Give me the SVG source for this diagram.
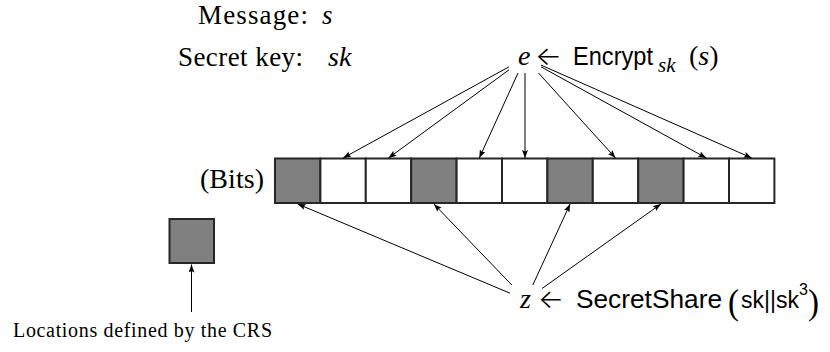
<svg xmlns="http://www.w3.org/2000/svg" width="830" height="352" viewBox="0 0 830 352">
  <style>
    .serif { font-family: "Liberation Serif", "DejaVu Serif", serif; fill: #000; }
    .sans { font-family: "Liberation Sans", "DejaVu Sans", sans-serif; fill: #000; }
    .it { font-style: italic; }
    .arr { font-family: Inter, "DejaVu Sans", sans-serif; font-weight: 300; fill: #000; }
    .bit { stroke: #262626; stroke-width: 2; }
    .one { fill: #808080; }
    .zero { fill: #ffffff; }
    .edge { stroke: #000; stroke-width: 1; fill: none; marker-end: url(#head); }
  </style>
  <defs>
    <marker id="head" markerUnits="userSpaceOnUse" markerWidth="9" markerHeight="7" refX="8" refY="3" orient="auto">
      <path d="M0,0 L8,3 L0,6 L1.5,3 Z" fill="#000"/>
    </marker>
  </defs>

  <!-- inputs -->
  <g id="message">
    <text class="serif" x="198" y="24" font-size="27" textLength="110" lengthAdjust="spacing">Message:</text>
    <text class="serif it" x="322" y="24" font-size="27">s</text>
  </g>
  <g id="secret-key">
    <text class="serif" x="178" y="66" font-size="27" textLength="125" lengthAdjust="spacing">Secret key:</text>
    <text class="serif it" x="328" y="66" font-size="28">sk</text>
  </g>

  <!-- ciphertext node -->
  <g id="ciphertext">
    <text class="serif it" x="518" y="65" font-size="28">e</text>
    <text class="arr" x="535" y="65" font-size="26" textLength="27" lengthAdjust="spacingAndGlyphs">←</text>
    <text class="sans" x="573" y="65" font-size="25" textLength="80" lengthAdjust="spacingAndGlyphs">Encrypt</text>
    <text class="serif it" x="658" y="72" font-size="21">sk</text>
    <text class="serif" x="689" y="65" font-size="28">(<tspan class="it">s</tspan>)</text>
  </g>

  <!-- bit row -->
  <g id="bits">
    <text class="serif" x="200" y="188" font-size="28" textLength="64" lengthAdjust="spacing">(Bits)</text>
    <rect class="bit one"  x="275"   y="158.5" width="45.4" height="44.5"/>
    <rect class="bit zero" x="320.4" y="158.5" width="45.4" height="44.5"/>
    <rect class="bit zero" x="365.8" y="158.5" width="45.4" height="44.5"/>
    <rect class="bit one"  x="411.2" y="158.5" width="45.4" height="44.5"/>
    <rect class="bit zero" x="456.6" y="158.5" width="45.4" height="44.5"/>
    <rect class="bit zero" x="502"   y="158.5" width="45.4" height="44.5"/>
    <rect class="bit one"  x="547.4" y="158.5" width="45.4" height="44.5"/>
    <rect class="bit zero" x="592.8" y="158.5" width="45.4" height="44.5"/>
    <rect class="bit one"  x="638.2" y="158.5" width="45.4" height="44.5"/>
    <rect class="bit zero" x="683.6" y="158.5" width="45.4" height="44.5"/>
    <rect class="bit zero" x="729"   y="158.5" width="45.4" height="44.5"/>
  </g>

  <!-- legend -->
  <g id="legend">
    <rect class="bit one" x="169.5" y="219" width="44.5" height="44"/>
    <text class="serif" x="13" y="337" font-size="20" textLength="259" lengthAdjust="spacing">Locations defined by the CRS</text>
  </g>

  <!-- share node -->
  <g id="share">
    <text class="serif it" x="520" y="308" font-size="28">z</text>
    <text class="arr" x="538" y="308" font-size="26" textLength="26" lengthAdjust="spacingAndGlyphs">←</text>
    <text class="sans" x="576" y="308" font-size="26" textLength="146" lengthAdjust="spacingAndGlyphs">SecretShare</text>
    <text class="serif" x="728" y="314" font-size="36" textLength="11" lengthAdjust="spacingAndGlyphs">(</text>
    <text class="sans" x="741" y="308" font-size="23">sk||sk<tspan font-size="16" dy="-13">3</tspan></text>
    <text class="serif" x="808" y="314" font-size="36" textLength="11" lengthAdjust="spacingAndGlyphs">)</text>
  </g>

  <!-- connectors -->
  <g id="connectors">
    <line class="edge" x1="509" y1="66.8" x2="343.1" y2="158"/>
    <line class="edge" x1="509" y1="69.8" x2="388.5" y2="158"/>
    <line class="edge" x1="518" y1="73" x2="479.3" y2="158"/>
    <line class="edge" x1="525" y1="73" x2="525" y2="158"/>
    <line class="edge" x1="538.5" y1="73" x2="615.5" y2="158"/>
    <line class="edge" x1="541" y1="66.8" x2="706.3" y2="158"/>
    <line class="edge" x1="541" y1="65.1" x2="751.7" y2="158"/>

    <line class="edge" x1="510" y1="293.2" x2="297.7" y2="204"/>
    <line class="edge" x1="511.8" y1="285" x2="433.9" y2="204"/>
    <line class="edge" x1="532.8" y1="285" x2="570.1" y2="204"/>
    <line class="edge" x1="542" y1="288.5" x2="660.9" y2="204"/>

    <line class="edge" x1="191.5" y1="312" x2="191.5" y2="264.5"/>
  </g>
</svg>
